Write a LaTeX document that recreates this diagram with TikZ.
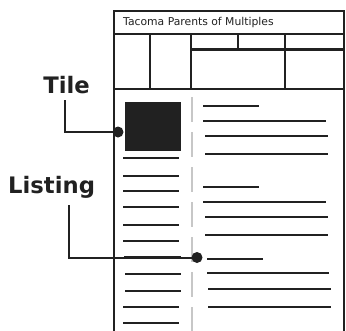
\documentclass[tikz,border=0pt]{standalone}
\usepackage{fontspec}
\setmainfont{DejaVu Sans}
\begin{document}
\begin{tikzpicture}[x=1pt,y=-1pt,
  frame/.style={draw=black!87,line width=2.3pt},
  txtline/.style={draw=black!87,line width=2pt},
  sep/.style={draw=black!22,line width=2pt,dash pattern=on 25pt off 10pt},
  conn/.style={draw=black!87,line width=2pt},
  dotmark/.style={circle,fill=black!87,inner sep=0pt,minimum size=11pt},
  lbl/.style={font=\fontsize{22.7}{26}\selectfont\bfseries,text=black!87,inner sep=0pt}]
\useasboundingbox (0,0) rectangle (346,330);
% outer frame
\draw[frame] (114,345) -- (114,10.7) -- (344,10.7) -- (344,345);
\node[anchor=base west,inner sep=0pt,font=\fontsize{10.8}{12}\selectfont,text=black!87] (title) at (123,25.7) {Tacoma Parents of Multiples};
% nav
\draw[frame] (114,34) -- (344,34);
\draw[frame] (114,89) -- (344,89);
\draw[frame] (191.3,49.5) -- (344,49.5);
\draw[frame] (150.3,34) -- (150.3,89);
\draw[frame] (191.3,34) -- (191.3,89);
\draw[frame] (237.7,34) -- (237.7,49.5);
\draw[frame] (285,34) -- (285,89);
% separator
\draw[sep] (192,97) -- (192,332);
% tile
\fill[black!87] (125,102) rectangle (181,151);
% left lines
\foreach \y/\a/\b in {158/123/179,176/123/179,191/123/179,207/123/179,225/123/179,241/123/179,257/124/181,274/125/181,291/125/181,307/123/179,323/123/179}
  \draw[txtline] (\a,\y) -- (\b,\y);
% right lines
\foreach \y/\a/\b in {106/203/259,121/203/326,136/205/328,154/205/328,187/203/259,202/203/326,217/205/328,235/205/328,259/207/263,273/207/329,289/208/331,307/208/331}
  \draw[txtline] (\a,\y) -- (\b,\y);
% labels and connectors
\node[lbl,anchor=base] (tile) at (66.5,93) {Tile};
\node[lbl,anchor=base west] (listing) at (8,193) {Listing};
\coordinate (tilestart) at (65,100);
\coordinate (liststart) at (69,205);
\node[dotmark] (tiledot) at (118,132) {};
\node[dotmark] (listdot) at (197,257.5) {};
\draw[conn] (tilestart) |- (tiledot.center);
\draw[conn] (liststart) |- (listdot.center);
\end{tikzpicture}
\end{document}
